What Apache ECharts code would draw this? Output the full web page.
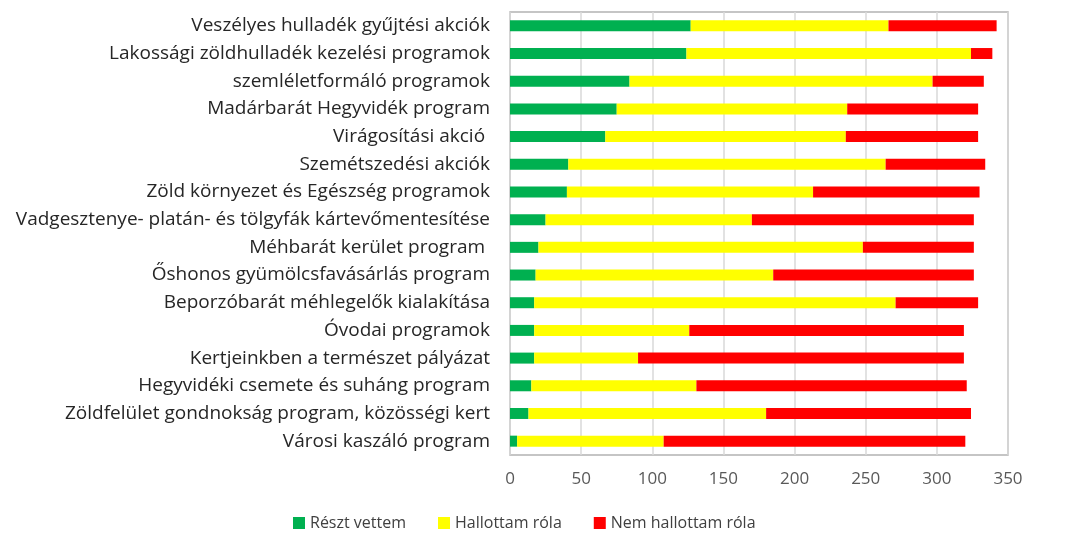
<!DOCTYPE html>
<html>
<head>
<meta charset="utf-8">
<script src="https://cdn.jsdelivr.net/npm/echarts@6/dist/echarts.min.js"></script>
<style>
html, body { margin: 0; padding: 0; background: #fff; }
#chart { width: 1088px; height: 534px; }
</style>
</head>
<body>
<div id="chart"></div>
<script>
var categories = [
    'Veszélyes hulladék gyűjtési akciók',
    'Lakossági zöldhulladék kezelési programok',
    'szemléletformáló programok',
    'Madárbarát Hegyvidék program',
    'Virágosítási akció ',
    'Szemétszedési akciók',
    'Zöld környezet és Egészség programok',
    'Vadgesztenye- platán- és tölgyfák kártevőmentesítése',
    'Méhbarát kerület program ',
    'Őshonos gyümölcsfavásárlás program',
    'Beporzóbarát méhlegelők kialakítása',
    'Óvodai programok',
    'Kertjeinkben a természet pályázat',
    'Hegyvidéki csemete és suháng program',
    'Zöldfelület gondnokság program, közösségi kert',
    'Városi kaszáló program'
];
var reszt = [127, 124, 84, 75, 67, 41, 40, 25, 20, 18, 17, 17, 17, 15, 13, 5];
var hallott = [139, 200, 213, 162, 169, 223, 173, 145, 228, 167, 254, 109, 73, 116, 167, 103];
var nem = [76, 15, 36, 92, 93, 70, 117, 156, 78, 141, 58, 193, 229, 190, 144, 212];
var xTicks = [0, 50, 100, 150, 200, 250, 300, 350];

var myChart = echarts.init(document.getElementById('chart'));
var font = '"Open Sans", sans-serif';

function mkSeries(name, data, color) {
    return {
        name: name,
        type: 'bar',
        stack: 'total',
        data: data,
        barWidth: 11,
        itemStyle: { color: color },
        emphasis: { disabled: true }
    };
}

var option = {
    animation: false,
    textStyle: { fontFamily: font },
    grid: {
        left: 510,
        right: 80,
        top: 12,
        bottom: 79,
        show: true,
        borderColor: '#b3b3b3',
        borderWidth: 1.5
    },
    legend: {
        bottom: -2,
        left: 288,
        itemWidth: 12,
        itemHeight: 12,
        itemGap: 32,
        icon: 'rect',
        textStyle: { fontSize: 16, color: '#404040', fontFamily: font }
    },
    xAxis: {
        type: 'value',
        min: xTicks[0],
        max: xTicks[xTicks.length - 1],
        interval: 50,
        axisLine: { show: false },
        axisTick: { show: false },
        splitLine: { lineStyle: { color: '#d9d9d9', width: 1.5 } },
        axisLabel: { color: '#595959', fontSize: 17, margin: 16, fontFamily: font }
    },
    yAxis: {
        type: 'category',
        inverse: true,
        data: categories,
        axisLine: { show: false },
        axisTick: { show: false },
        axisLabel: { color: '#262626', fontSize: 19, margin: 20, fontFamily: font }
    },
    series: [
        mkSeries('Részt vettem', reszt, '#00b050'),
        mkSeries('Hallottam róla', hallott, '#ffff00'),
        mkSeries('Nem hallottam róla', nem, '#ff0000')
    ]
};
myChart.setOption(option);
</script>
</body>
</html>
